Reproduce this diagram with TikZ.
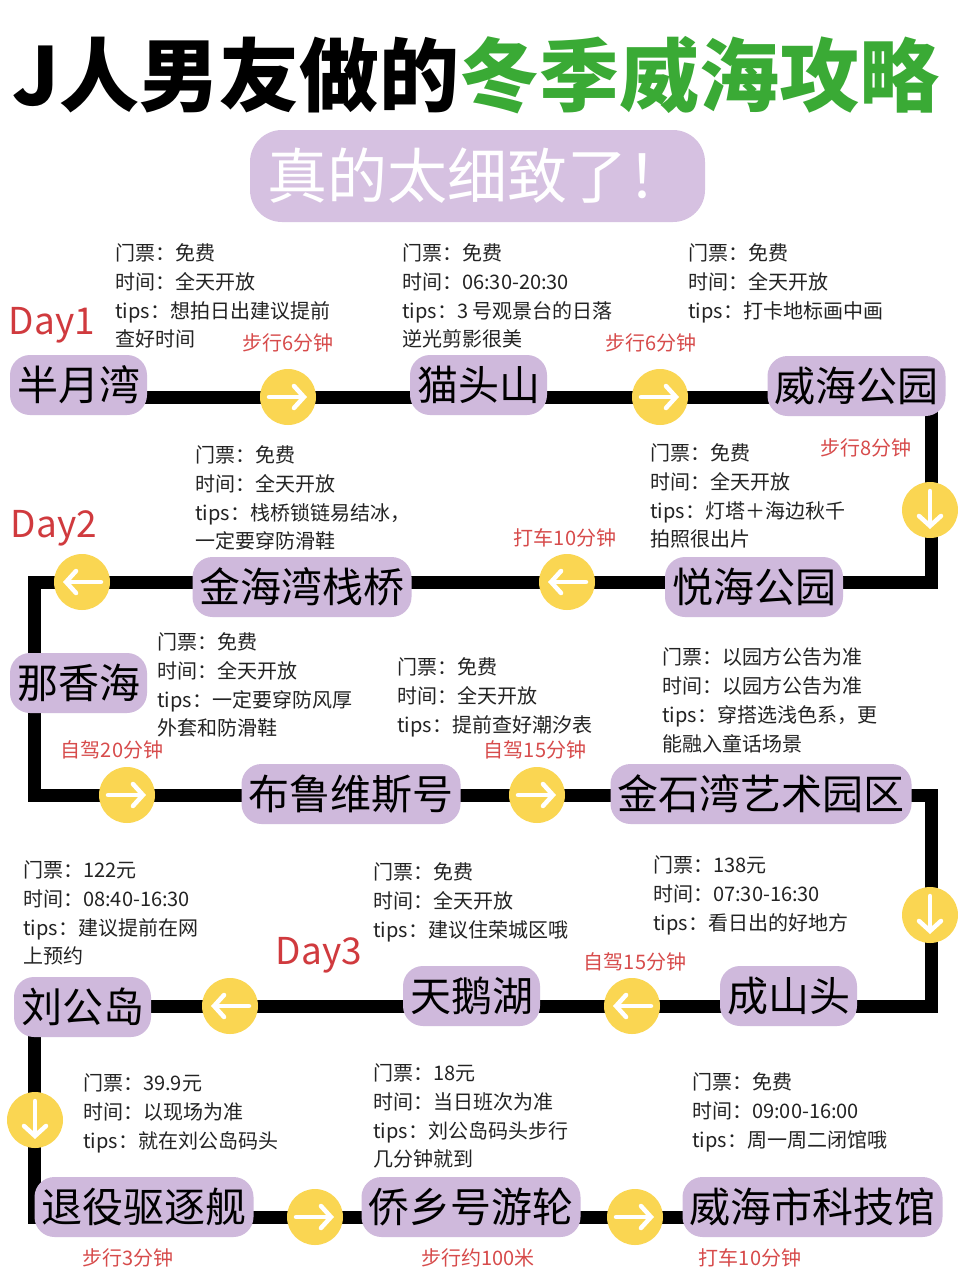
\documentclass[tikz,border=0pt]{standalone}
\usepackage{fontspec}
\setmainfont{Noto Sans CJK SC}
\usetikzlibrary{arrows.meta,positioning,backgrounds}
\definecolor{TitleGreen}{RGB}{58,170,53}
\definecolor{PillPurple}{RGB}{207,185,220}
\definecolor{BannerPurple}{RGB}{214,193,225}
\definecolor{DotYellow}{RGB}{250,214,82}
\definecolor{NoteRed}{RGB}{215,75,75}
\definecolor{DayRed}{RGB}{208,58,62}
\definecolor{InfoGray}{RGB}{35,35,35}
\tikzset{
  spot/.style={fill=PillPurple, rounded corners=20pt, inner xsep=7pt, inner ysep=0pt,
    minimum height=60pt, font=\fontsize{41}{41}\selectfont},
  stopdot/.style={circle, fill=DotYellow, minimum size=56pt, inner sep=0pt},
  route/.style={line width=13pt, line join=miter, black},
  warrow/.style={white, line width=4.5pt, line cap=round,
    -{Straight Barb[length=10pt,width=22pt,line cap=round]}},
  info/.style={anchor=north west, align=left, inner sep=0pt, text=InfoGray,
    font=\fontsize{20}{28.8}\selectfont},
  travel/.style={text=NoteRed, inner sep=0pt, font=\fontsize{20}{20}\selectfont},
  daylabel/.style={text=DayRed, inner sep=0pt, font=\fontsize{37}{37}\selectfont}
}
\begin{document}
\begin{tikzpicture}[x=1pt,y=-1pt]
      \useasboundingbox (0,0) rectangle (958,1280);
      % title
      \node[anchor=west, inner sep=0pt, font=\bfseries\fontsize{80}{80}\selectfont] (tj) at (12,75) {J人男友做的};
      \node[right=0pt of tj, inner sep=0pt, text=TitleGreen, font=\bfseries\fontsize{80}{80}\selectfont] (tg) {冬季威海攻略};
      \node[fill=BannerPurple, rounded corners=32pt, minimum width=455pt, minimum height=92pt,
        text=white, font=\fontsize{60}{60}\selectfont] (sub) at (477.5,176) {真的太细致了！};
      % spots
      \node[spot] (p1) at (78.5,385) {半月湾};
      \node[spot] (p2) at (478.5,385) {猫头山};
      \node[spot] (p3) at (856.5,386) {威海公园};
      \node[spot] (p4) at (754,587) {悦海公园};
      \node[spot] (p5) at (302,587) {金海湾栈桥};
      \node[spot] (p6) at (78.5,683) {那香海};
      \node[spot] (p7) at (351,794) {布鲁维斯号};
      \node[spot] (p8) at (761,794) {金石湾艺术园区};
      \node[spot] (p9) at (788.5,996) {成山头};
      \node[spot] (p10) at (471.5,996) {天鹅湖};
      \node[spot] (p11) at (82.5,1007) {刘公岛};
      \node[spot] (p12) at (144,1207) {退役驱逐舰};
      \node[spot] (p13) at (471,1207) {侨乡号游轮};
      \node[spot] (p14) at (812.5,1207) {威海市科技馆};
      % turning points
      \coordinate (k1) at (931,397);
      \coordinate (k2) at (931,582);
      \coordinate (k3) at (34,582);
      \coordinate (k4) at (34,795);
      \coordinate (k5) at (931,795);
      \coordinate (k6) at (931,1006);
      \coordinate (k7) at (34,1006);
      \coordinate (k8) at (34,1217);
      % dots
      \node[stopdot] (c1) at (288,397) {};
      \node[stopdot] (c2) at (660,397) {};
      \node[stopdot] (c3) at (930,510) {};
      \node[stopdot] (c4) at (567,582) {};
      \node[stopdot] (c5) at (82,582) {};
      \node[stopdot] (c6) at (127,795) {};
      \node[stopdot] (c7) at (537,795) {};
      \node[stopdot] (c8) at (930,915) {};
      \node[stopdot] (c9) at (632,1006) {};
      \node[stopdot] (c10) at (230,1006) {};
      \node[stopdot] (c11) at (35,1120) {};
      \node[stopdot] (c12) at (315,1217) {};
      \node[stopdot] (c13) at (635,1217) {};
      \foreach \c in {c1,c2,c6,c7,c12,c13}
        \draw[warrow] ([xshift=-19pt]\c.center) -- ([xshift=19pt]\c.center);
      \foreach \c in {c4,c5,c9,c10}
        \draw[warrow] ([xshift=19pt]\c.center) -- ([xshift=-19pt]\c.center);
      \foreach \c in {c3,c8,c11}
        \draw[warrow] ([yshift=19pt]\c.center) -- ([yshift=-19pt]\c.center);
      \begin{scope}[on background layer]
        \fill[white] (0,0) rectangle (958,1280);
        \draw[route] (p1 |- k1) -- (k1) -- (k2) -- (k3) -- (k4) -- (k5) -- (k6) -- (k7) -- (k8) -- (p14 |- k8);
      \end{scope}
      % days
      \node[daylabel] (d1) at (52,325) {Day1};
      \node[daylabel] (d2) at (54,528) {Day2};
      \node[daylabel] (d3) at (319,955) {Day3};
      % travel times
      \node[travel] (l1) at (288,343) {步行6分钟};
      \node[travel] (l2) at (651,343) {步行6分钟};
      \node[travel] (l3) at (866,448) {步行8分钟};
      \node[travel] (l4) at (565,538) {打车10分钟};
      \node[travel] (l5) at (112,750) {自驾20分钟};
      \node[travel] (l6) at (535,750) {自驾15分钟};
      \node[travel] (l7) at (635,962) {自驾15分钟};
      \node[travel] (l8) at (128,1258) {步行3分钟};
      \node[travel] (l9) at (478,1258) {步行约100米};
      \node[travel] (l10) at (750,1258) {打车10分钟};
      % notes
      \node[info] (i1) at (115,243.5) {门票：免费\\时间：全天开放\\tips：想拍日出建议提前\\查好时间};
      \node[info] (i2) at (402,243.5) {门票：免费\\时间：06:30-20:30\\tips：3 号观景台的日落\\逆光剪影很美};
      \node[info] (i3) at (688,243.5) {门票：免费\\时间：全天开放\\tips：打卡地标画中画};
      \node[info] (i4) at (195,445.5) {门票：免费\\时间：全天开放\\tips：栈桥锁链易结冰，\\一定要穿防滑鞋};
      \node[info] (i5) at (650,443.5) {门票：免费\\时间：全天开放\\tips：灯塔＋海边秋千\\拍照很出片};
      \node[info] (i6) at (157,632.5) {门票：免费\\时间：全天开放\\tips：一定要穿防风厚\\外套和防滑鞋};
      \node[info] (i7) at (397,657.5) {门票：免费\\时间：全天开放\\tips：提前查好潮汐表};
      \node[info] (i8) at (662,647.5) {门票：以园方公告为准\\时间：以园方公告为准\\tips：穿搭选浅色系，更\\能融入童话场景};
      \node[info] (i9) at (23,860.5) {门票：122元\\时间：08:40-16:30\\tips：建议提前在网\\上预约};
      \node[info] (i10) at (373,862.5) {门票：免费\\时间：全天开放\\tips：建议住荣城区哦};
      \node[info] (i11) at (653,855.5) {门票：138元\\时间：07:30-16:30\\tips：看日出的好地方};
      \node[info] (i12) at (83,1073.5) {门票：39.9元\\时间：以现场为准\\tips：就在刘公岛码头};
      \node[info] (i13) at (373,1063.5) {门票：18元\\时间：当日班次为准\\tips：刘公岛码头步行\\几分钟就到};
      \node[info] (i14) at (692,1072.5) {门票：免费\\时间：09:00-16:00\\tips：周一周二闭馆哦};
    \end{tikzpicture}
\end{document}
